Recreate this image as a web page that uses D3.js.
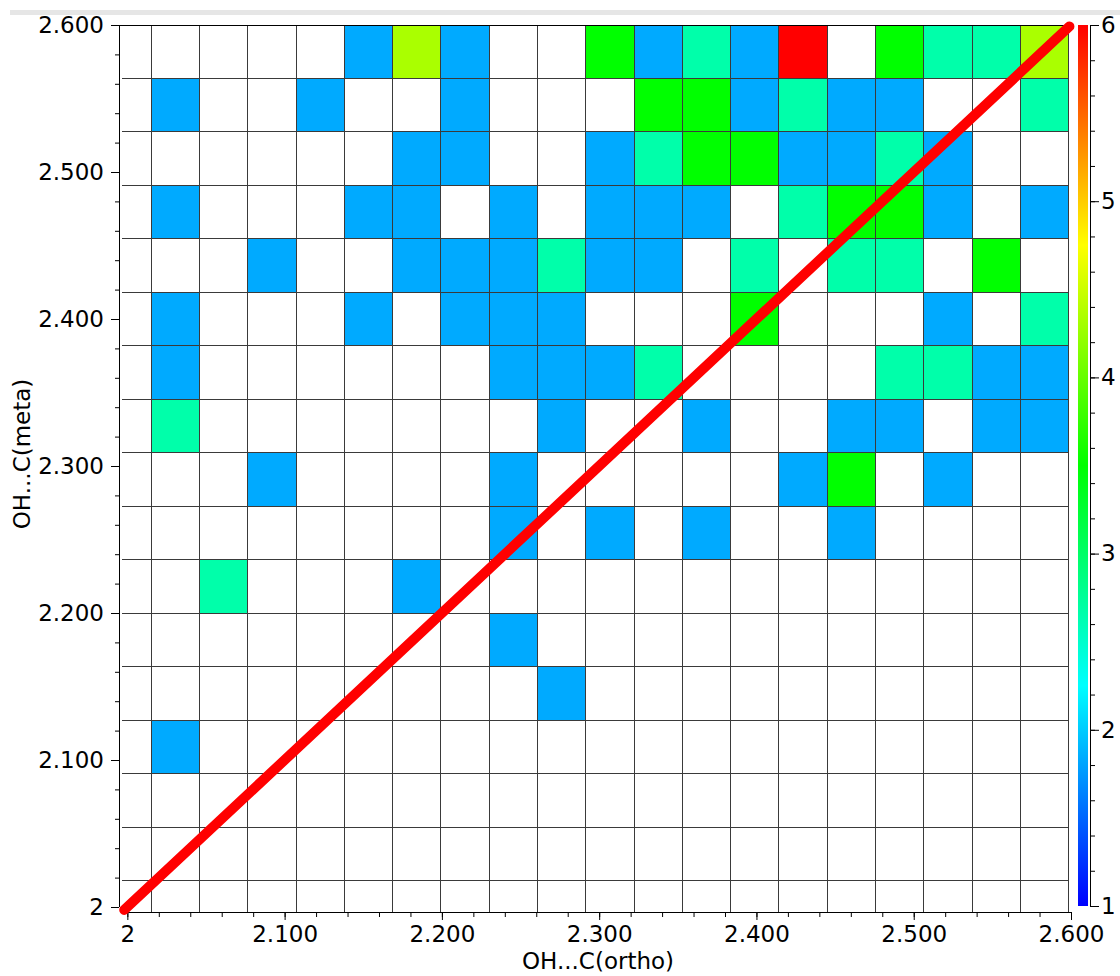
<!DOCTYPE html>
<html>
<head>
<meta charset="utf-8">
<script src="https://cdnjs.cloudflare.com/ajax/libs/d3/7.8.5/d3.min.js"></script>
<style>
    body { margin: 0; background: #fff; }
    svg text { font-family: 'DejaVu Sans', sans-serif; }
</style>
</head>
<body>
<div id="chart"></div>
<script>
/*global d3*/
(function () {
    'use strict';

    // histogram bins (bins do not start on 2.0, they follow the data range)
    var xBinStart = 1.9845, xBinWidth = 0.0307,
        yBinStart = 1.9813, yBinWidth = 0.0364,
        axisMin = 1.9966, axisMax = 2.6,

        // counts per cell: top row first, left column first
        counts = [
            [0, 0, 0, 0, 0, 1, 4, 1, 0, 0, 3, 1, 2, 1, 6, 0, 3, 2, 2, 4],
            [0, 1, 0, 0, 1, 0, 0, 1, 0, 0, 0, 3, 3, 1, 2, 1, 1, 0, 0, 2],
            [0, 0, 0, 0, 0, 0, 1, 1, 0, 0, 1, 2, 3, 3, 1, 1, 2, 1, 0, 0],
            [0, 1, 0, 0, 0, 1, 1, 0, 1, 0, 1, 1, 1, 0, 2, 3, 3, 1, 0, 1],
            [0, 0, 0, 1, 0, 0, 1, 1, 1, 2, 1, 1, 0, 2, 0, 2, 2, 0, 3, 0],
            [0, 1, 0, 0, 0, 1, 0, 1, 1, 1, 0, 0, 0, 3, 0, 0, 0, 1, 0, 2],
            [0, 1, 0, 0, 0, 0, 0, 0, 1, 1, 1, 2, 0, 0, 0, 0, 2, 2, 1, 1],
            [0, 2, 0, 0, 0, 0, 0, 0, 0, 1, 0, 0, 1, 0, 0, 1, 1, 0, 1, 1],
            [0, 0, 0, 1, 0, 0, 0, 0, 1, 0, 0, 0, 0, 0, 1, 3, 0, 1, 0, 0],
            [0, 0, 0, 0, 0, 0, 0, 0, 1, 0, 1, 0, 1, 0, 0, 1, 0, 0, 0, 0],
            [0, 0, 2, 0, 0, 0, 1, 0, 0, 0, 0, 0, 0, 0, 0, 0, 0, 0, 0, 0],
            [0, 0, 0, 0, 0, 0, 0, 0, 1, 0, 0, 0, 0, 0, 0, 0, 0, 0, 0, 0],
            [0, 0, 0, 0, 0, 0, 0, 0, 0, 1, 0, 0, 0, 0, 0, 0, 0, 0, 0, 0],
            [0, 1, 0, 0, 0, 0, 0, 0, 0, 0, 0, 0, 0, 0, 0, 0, 0, 0, 0, 0],
            [0, 0, 0, 0, 0, 0, 0, 0, 0, 0, 0, 0, 0, 0, 0, 0, 0, 0, 0, 0],
            [0, 0, 0, 0, 0, 0, 0, 0, 0, 0, 0, 0, 0, 0, 0, 0, 0, 0, 0, 0],
            [0, 0, 0, 0, 0, 0, 0, 0, 0, 0, 0, 0, 0, 0, 0, 0, 0, 0, 0, 0]
        ],

        majorTicks = [2, 2.1, 2.2, 2.3, 2.4, 2.5, 2.6],
        colorTicks = [1, 2, 3, 4, 5, 6],
        rainbow = ['#0000ff', '#00ffff', '#00ff00', '#ffff00', '#ff0000'],
        diagonal = [1.998, 2.599],

        xTitle = 'OH...C(ortho)',
        yTitle = 'OH...C(meta)',

        width = 1120,
        height = 976,
        fontSize = '23px',

        x = d3.scaleLinear().domain([axisMin, axisMax]).range([122, 1071]),
        y = d3.scaleLinear().domain([axisMin, axisMax]).range([912, 25]),
        color = d3.scaleSequential(d3.piecewise(d3.interpolateRgb, rainbow)).domain([0, 6]),
        cb = d3.scaleLinear().domain([1, 6]).range([906, 25]),

        minorTicks = d3.range(0, 31).map(function (i) { return 2 + i * 0.02; }),
        minorColor = d3.range(0, 26).map(function (i) { return 1 + i * 0.2; }),

        fmt = function (d) {
            return d === 2 ? '2' : d3.format('.3f')(d);
        },

        svg = d3.select('#chart')
            .append('svg')
            .attr('width', width)
            .attr('height', height),

        cells = [];

    counts.forEach(function (row, i) {
        var r = counts.length - 1 - i;
        row.forEach(function (c, j) {
            cells.push({ col: j, row: r, count: c });
        });
    });

    // thin grey strip at the top of the window
    svg.append('rect')
        .attr('x', 10)
        .attr('y', 10)
        .attr('width', width - 10)
        .attr('height', 5)
        .style('fill', '#e6e6e6');

    svg.append('clipPath')
        .attr('id', 'plotClip')
        .append('rect')
        .attr('x', x(axisMin))
        .attr('y', y(axisMax))
        .attr('width', x(axisMax) - x(axisMin))
        .attr('height', y(axisMin) - y(axisMax));

    svg.append('g')
        .attr('clip-path', 'url(#plotClip)')
        .selectAll('rect')
        .data(cells)
        .enter()
        .append('rect')
        .attr('x', function (d) { return x(xBinStart + d.col * xBinWidth); })
        .attr('y', function (d) { return y(yBinStart + (d.row + 1) * yBinWidth); })
        .attr('width', function (d) {
            return x(xBinStart + (d.col + 1) * xBinWidth) - x(xBinStart + d.col * xBinWidth);
        })
        .attr('height', function (d) {
            return y(yBinStart + d.row * yBinWidth) - y(yBinStart + (d.row + 1) * yBinWidth);
        })
        .attr('shape-rendering', 'crispEdges')
        .style('fill', function (d) { return d.count ? color(d.count) : '#ffffff'; })
        .style('stroke', '#3a3a3a')
        .style('stroke-width', '1px');

    // top border of the plot
    svg.append('line')
        .attr('x1', 119)
        .attr('x2', x(axisMax))
        .attr('y1', y(axisMax) + 0.5)
        .attr('y2', y(axisMax) + 0.5)
        .style('stroke', '#000');

    // y axis
    svg.append('g')
        .attr('transform', 'translate(119,0)')
        .call(d3.axisLeft(y).tickValues(minorTicks).tickSize(4).tickFormat(''))
        .call(function (g) { g.select('.domain').remove(); });

    svg.append('g')
        .attr('transform', 'translate(119,0)')
        .call(d3.axisLeft(y).tickValues(majorTicks).tickSize(8).tickSizeOuter(0)
            .tickPadding(7).tickFormat(fmt))
        .call(function (g) {
            g.select('.domain').attr('d', 'M0.5,' + y(2) + 'V' + y(2.6));
            g.selectAll('text').style('font-size', fontSize).style('fill', '#000');
        });

    // x axis
    svg.append('g')
        .attr('transform', 'translate(0,912)')
        .call(d3.axisBottom(x).tickValues(minorTicks).tickSize(5).tickFormat(''))
        .call(function (g) { g.select('.domain').remove(); });

    svg.append('g')
        .attr('transform', 'translate(0,912)')
        .call(d3.axisBottom(x).tickValues(majorTicks).tickSize(8).tickSizeOuter(0)
            .tickPadding(6).tickFormat(fmt))
        .call(function (g) {
            g.selectAll('text').style('font-size', fontSize).style('fill', '#000');
        });

    // diagonal
    svg.append('line')
        .attr('x1', x(diagonal[0]))
        .attr('y1', y(diagonal[0]))
        .attr('x2', x(diagonal[1]))
        .attr('y2', y(diagonal[1]))
        .style('stroke', '#ff0000')
        .style('stroke-width', '10px')
        .style('stroke-linecap', 'round');

    // colour bar
    var grad = svg.append('defs')
        .append('linearGradient')
        .attr('id', 'rainbow')
        .attr('x1', 0).attr('y1', 1)
        .attr('x2', 0).attr('y2', 0);

    grad.selectAll('stop')
        .data(rainbow)
        .enter()
        .append('stop')
        .attr('offset', function (d, i) { return (i / (rainbow.length - 1) * 100) + '%'; })
        .attr('stop-color', function (d) { return d; });

    svg.append('rect')
        .attr('x', 1078)
        .attr('y', cb(6))
        .attr('width', 10)
        .attr('height', cb(1) - cb(6))
        .style('fill', 'url(#rainbow)');

    svg.append('g')
        .attr('transform', 'translate(1090,0)')
        .call(d3.axisRight(cb).tickValues(minorColor).tickSize(5).tickFormat(''))
        .call(function (g) { g.select('.domain').remove(); });

    svg.append('g')
        .attr('transform', 'translate(1090,0)')
        .call(d3.axisRight(cb).tickValues(colorTicks).tickSize(9).tickSizeOuter(0)
            .tickPadding(2).tickFormat(d3.format('d')))
        .call(function (g) {
            g.selectAll('text').style('font-size', fontSize).style('fill', '#000');
        });

    // axis titles
    svg.append('text')
        .attr('x', 598)
        .attr('y', 969)
        .attr('text-anchor', 'middle')
        .style('font-size', fontSize)
        .text(xTitle);

    svg.append('text')
        .attr('transform', 'translate(30,454) rotate(-90)')
        .attr('text-anchor', 'middle')
        .style('font-size', fontSize)
        .text(yTitle);

}());
</script>
</body>
</html>
